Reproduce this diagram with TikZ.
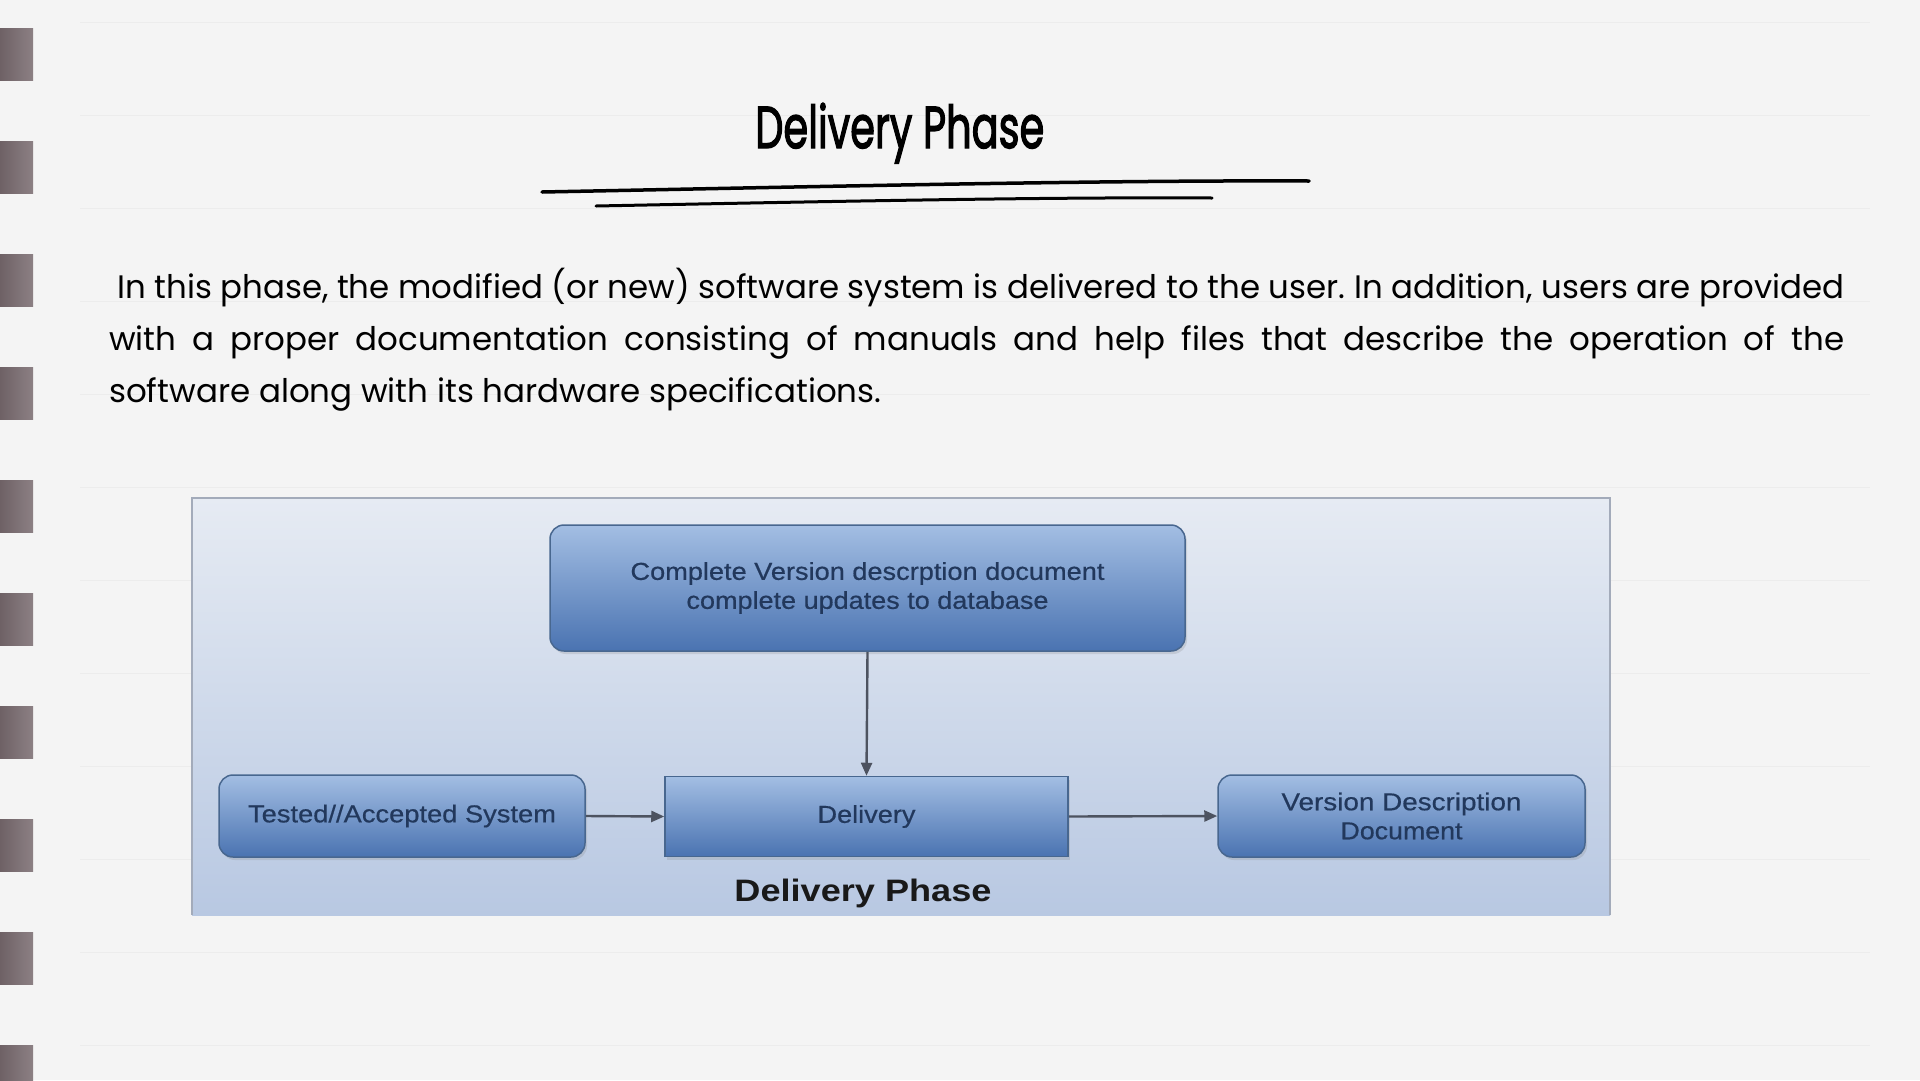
\documentclass[tikz,border=0pt]{standalone}
\usepackage{fontspec}
\usepackage{graphicx}
\usetikzlibrary{arrows.meta,shadows}
\newfontfamily\bodyfont{Poppins}
\newfontfamily\titlefont[FakeBold=2.5]{Poppins}
\newfontfamily\diafont{Liberation Sans}
\newfontfamily\diamed[FakeBold=0.5]{Liberation Sans}
\newcommand{\fitw}[2]{\resizebox{#1}{\height}{#2}}
\definecolor{paper}{HTML}{F4F4F4}
\definecolor{ruleline}{HTML}{ECECEC}
\definecolor{holedark}{HTML}{6E6165}
\definecolor{holelight}{HTML}{8C8084}
\definecolor{paneltop}{HTML}{E6EBF3}
\definecolor{panelbot}{HTML}{B8C8E2}
\definecolor{paneledge}{HTML}{A3ABBA}
\definecolor{boxtop}{HTML}{A3BEE3}
\definecolor{boxbot}{HTML}{4A73B1}
\definecolor{boxedge}{HTML}{48678F}
\definecolor{boxtext}{HTML}{22385C}
\definecolor{arrowcol}{HTML}{4D5360}
\begin{document}
\frenchspacing
\begin{tikzpicture}[x=1pt,y=-1pt,
  ruled/.style={draw=ruleline, line width=1pt},
  hole/.style={left color=holedark, right color=holelight},
  uline/.style={draw=black, line width=3.5pt, line cap=round},
  para/.style={inner sep=0pt, font=\bodyfont\fontsize{32.5}{38}\selectfont, text=black},
  boxbase/.style={draw=boxedge, line width=1.5pt, top color=boxtop, bottom color=boxbot,
     text=boxtext, align=center, inner sep=0pt,
     font=\diamed\fontsize{24.5}{29}\selectfont,
     drop shadow={opacity=0.22, shadow xshift=2pt, shadow yshift=-3pt}},
  rbox/.style={boxbase, rounded corners=14pt},
  sbox/.style={boxbase},
  conn/.style={draw=arrowcol, line width=2.4pt, -{Triangle[length=13pt,width=11pt]}},
  caption/.style={inner sep=0pt, text=black!90, font=\diafont\bfseries\fontsize{31}{36}\selectfont}
]
\useasboundingbox (0,0) rectangle (1920,1080);
\fill[paper] (0,0) rectangle (1920,1080);
% faint ruled lines
\foreach \k in {0,...,11} \draw[ruled] (80,22+93*\k) -- (1870,22+93*\k);
% binder holes
\foreach \k in {0,...,9} \shade[hole] (0,28+113*\k) rectangle (33,80+113*\k);

% title
\node[anchor=base west, inner sep=0pt] (title) at (755,148)
  {\resizebox{289pt}{45pt}{\titlefont Delivery Phase}};
\coordinate (u1a) at (542,192); \coordinate (u1b) at (1309,181);
\coordinate (u2a) at (596,206); \coordinate (u2b) at (1212,198);
\draw[uline] (u1a) .. controls (800,187) and (1100,180) .. (u1b);
\draw[uline, line width=3pt] (u2a) .. controls (850,201) and (1050,197) .. (u2b);

% paragraph
\node[para, anchor=base west] (p1) at (117,298)
  {\resizebox{1727pt}{\height}{In this phase, the modified (or new) software system is delivered to the user. In addition, users are provided}};
\node[para, anchor=base west] (p2) at (109,350)
  {\makebox[1735pt][s]{with a proper documentation consisting of manuals and help files that describe the operation of the}};
\node[para, anchor=base west] (p3) at (109,402)
  {software along with its hardware specifications.};

% diagram panel
\shade[top color=paneltop, bottom color=panelbot] (192,498) rectangle (1610,915);
\draw[draw=paneledge, line width=2pt] (192,915) -- (192,498) -- (1610,498) -- (1610,915);

\node[rbox, minimum width=635pt, minimum height=126pt] (top) at (867.5,588)
  {\fitw{474pt}{Complete Version descrption document}\\\fitw{362pt}{complete updates to database}};
\node[sbox, minimum width=403pt, minimum height=80pt] (del) at (866.5,816.5)
  {\fitw{98pt}{Delivery}};
\node[rbox, minimum width=366pt, minimum height=82pt] (tested) at (402,816)
  {\fitw{308pt}{Tested//Accepted System}};
\node[rbox, minimum width=367pt, minimum height=82pt] (vdd) at (1401.5,816)
  {\fitw{240pt}{Version Description}\\\fitw{122pt}{Document}};
\node[caption] (cap) at (863,893) {\fitw{257pt}{Delivery Phase}};

\draw[conn] (top.south) -- (del.north);
\draw[conn] (tested.east) -- (del.west);
\draw[conn] (del.east) -- (vdd.west);
\end{tikzpicture}
\end{document}
